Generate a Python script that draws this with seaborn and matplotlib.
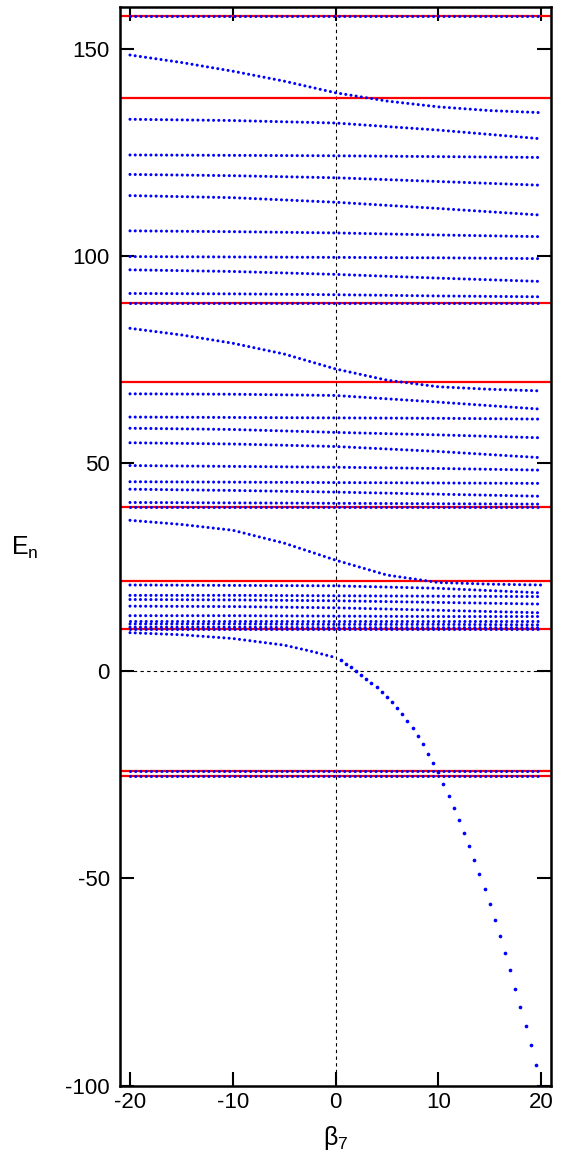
import matplotlib
matplotlib.use('Agg')
import matplotlib.pyplot as plt
import pandas as pd
import seaborn as sns

# knots (beta_7) for the slowly varying levels
beta_knots = [-20, -10, 0, 10, 20]

# slowly varying levels, values read at the knots
levels_top = [
    [133.0, 132.7, 132.1, 130.4, 128.3],
    [124.4, 124.3, 124.2, 124.0, 123.8],
    [119.7, 119.4, 118.9, 118.0, 117.1],
    [114.6, 114.1, 113.0, 111.5, 109.9],
    [106.1, 105.9, 105.6, 105.1, 104.7],
    [99.9, 99.8, 99.7, 99.6, 99.4],
    [96.7, 96.3, 95.6, 94.7, 93.9],
    [91.0, 90.9, 90.7, 90.4, 90.2],
]
levels_mid = [
    [66.8, 66.7, 66.4, 64.8, 63.1],
    [61.2, 61.1, 61.0, 60.9, 60.7],
    [58.5, 58.2, 57.5, 56.9, 56.2],
    [55.0, 54.7, 54.1, 52.9, 51.4],
    [49.5, 49.3, 49.1, 48.8, 48.4],
    [45.6, 45.5, 45.4, 45.3, 45.2],
    [43.8, 43.5, 43.1, 42.6, 42.1],
    [40.6, 40.5, 40.4, 40.3, 40.2],
]
levels_low = [
    [20.7, 20.6, 20.5, 19.9, 18.8],
    [18.2, 18.2, 18.1, 18.0, 17.9],
    [17.2, 17.1, 16.9, 16.5, 16.1],
    [15.6, 15.5, 15.2, 14.6, 14.0],
    [13.3, 13.3, 13.2, 13.1, 13.1],
    [12.1, 12.1, 12.1, 12.1, 12.1],
    [11.3, 11.3, 11.2, 11.2, 11.1],
    [10.5, 10.5, 10.4, 10.4, 10.4],
]

# levels that run through the avoided crossings
beta_cross = [-20, -15, -10, -5, 0, 5, 10, 15, 20]
cross_top = [148.5, 146.7, 144.6, 142.2, 139.4, 137.4, 136.0, 135.1, 134.6]
cross_mid = [82.6, 81.0, 79.0, 76.4, 72.8, 70.1, 68.5, 67.9, 67.5]
cross_low = [36.3, 35.3, 33.9, 30.8, 26.7, 23.1, 21.3, 20.9, 20.7]

# lowest level for beta_7 <= 0 and its steep fall for beta_7 > 0
beta_dive_left = [-20, -15, -10, -5, -2.5, 0]
dive_left = [9.2, 8.7, 7.8, 6.2, 4.8, 3.2]
beta_dive = [0.5, 1, 1.5, 2, 2.5, 3, 3.5, 4, 4.5, 5, 5.5, 6, 6.5, 7, 7.5, 8,
             8.5, 9, 9.5, 10, 10.5, 11, 11.5, 12, 12.5, 13, 13.5, 14, 14.5,
             15, 15.5, 16, 16.5, 17, 17.5, 18, 18.5, 19, 19.5, 20]
dive = [2.5, 1.7, 0.9, 0.0, -0.9, -1.9, -2.9, -4.0, -5.1, -6.3, -7.6, -9.0,
        -10.5, -12.1, -13.9, -15.8, -17.7, -20.0, -22.2, -24.5, -27.3, -30.1,
        -33.0, -36.0, -39.1, -42.3, -45.6, -49.0, -52.6, -56.2, -60.1, -64.0,
        -68.1, -72.2, -76.6, -81.0, -85.6, -90.3, -95.1, -100.6]

# constant levels (blue dots sitting on the red reference lines)
beta_ends = [-20, 20]
flat_levels = [157.9, 88.8, 39.6, 10.0, -24.1, -25.3]

# red reference energies
ref_levels = [157.9, 138.2, 88.8, 69.7, 39.6, 21.7, 10.0, -24.1, -25.3]

rows = []
cid = 0
for group in (levels_top, levels_mid, levels_low):
    for vals in group:
        for b, e in zip(beta_knots, vals):
            rows.append((cid, b, e))
        cid += 1
for vals in (cross_top, cross_mid, cross_low):
    for b, e in zip(beta_cross, vals):
        rows.append((cid, b, e))
    cid += 1
for b, e in zip(beta_dive_left, dive_left):
    rows.append((cid, b, e))
cid += 1
for lev in flat_levels:
    for b in beta_ends:
        rows.append((cid, b, lev))
    cid += 1
df = pd.DataFrame(rows, columns=['curve', 'beta', 'E'])

sns.set_style('ticks')
plt.rcParams['font.family'] = ['Liberation Sans', 'DejaVu Sans']
plt.rcParams['mathtext.default'] = 'regular'
plt.rcParams['axes.unicode_minus'] = False
plt.rcParams['text.color'] = 'black'
plt.rcParams['axes.labelcolor'] = 'black'
plt.rcParams['xtick.color'] = 'black'
plt.rcParams['ytick.color'] = 'black'

fig = plt.figure(figsize=(5.61, 11.62), dpi=100)
ax = fig.add_axes([0.2134, 0.0658, 0.7693, 0.9279])

for lev in ref_levels:
    ax.axhline(lev, color='red', lw=1.6, zorder=2)
ax.axhline(0, color='black', lw=0.8, ls=(0, (3, 3)), zorder=1)
ax.axvline(0, color='black', lw=0.8, ls=(0, (3, 3)), zorder=1)

sns.lineplot(data=df, x='beta', y='E', units='curve', estimator=None,
             color='blue', lw=2.2, linestyle=(0, (0.01, 1.7)),
             dash_capstyle='round', ax=ax, zorder=3)
sns.scatterplot(x=beta_dive, y=dive, color='blue', s=7, linewidth=0,
                ax=ax, zorder=3)

ax.set_xlim(-21, 21)
ax.set_ylim(-100, 160)
ax.set_xticks([-20, -10, 0, 10, 20])
ax.set_yticks([-100, -50, 0, 50, 100, 150])
ax.tick_params(direction='in', length=10, width=1.5, top=True, right=True,
               labelsize=16, pad=7)
ax.tick_params(axis='x', pad=5)
for s in ax.spines.values():
    s.set_linewidth(1.8)
    s.set_color('black')

ax.set_xlabel('$β_7$', fontsize=18)
ax.xaxis.set_label_coords(0.5, -0.036)
ax.set_ylabel('$E_n$', fontsize=18, rotation=0, va='center', ha='center')
ax.yaxis.set_label_coords(-0.22, 0.4986)

fig.savefig('out.png', dpi=100)
